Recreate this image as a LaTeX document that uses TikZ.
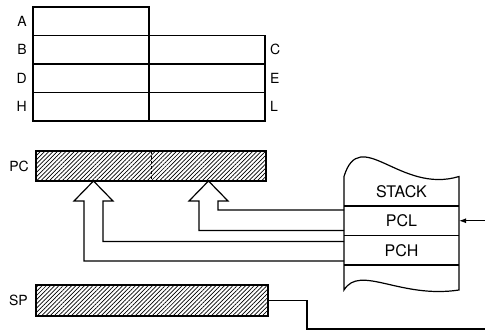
\documentclass[tikz,border=0pt]{standalone}
\usepackage{fontspec}
\setmainfont{TeX Gyre Heros}
\usetikzlibrary{arrows.meta, positioning, calc, patterns.meta}

\begin{document}
\begin{tikzpicture}[
    x=1pt, y=-1pt,
    cell/.style={draw, line width=1.2pt, minimum width=116pt, minimum height=28.5pt,
                 inner sep=0pt, outer sep=0pt},
    reg/.style={draw, line width=1.2pt, inner sep=0pt, outer sep=0pt, minimum height=30pt,
                pattern={Lines[angle=45, distance=3pt, line width=0.7pt]}},
    row/.style={minimum width=115pt, minimum height=29.5pt, inner sep=0pt, outer sep=0pt,
                font=\fontsize{16}{18}\selectfont},
    regname/.style={font=\fontsize{14}{16}\selectfont, inner sep=0pt},
    pipe/.style={line width=1.2pt, line join=miter},
    arrow/.style={-{Latex[length=7pt, width=5pt]}, line width=1.2pt}
  ]
  \useasboundingbox (0,0) rectangle (485,332);

  % register pairs
  \node[cell, anchor=north west] (regA) at (33,7) {};
  \node[cell, below=0pt of regA] (regB) {};
  \node[cell, below=0pt of regB] (regD) {};
  \node[cell, below=0pt of regD] (regH) {};
  \node[cell, right=0pt of regB] (regC) {};
  \node[cell, below=0pt of regC] (regE) {};
  \node[cell, below=0pt of regE] (regL) {};

  \node[regname, left=6pt of regA] (lA) {A};
  \node[regname, left=6pt of regB] (lB) {B};
  \node[regname, left=6pt of regD] (lD) {D};
  \node[regname, left=6pt of regH] (lH) {H};
  \node[regname, right=5pt of regC] (lC) {C};
  \node[regname, right=5pt of regE] (lE) {E};
  \node[regname, right=5pt of regL] (lL) {L};

  % program counter and stack pointer
  \node[reg, minimum width=230pt, anchor=north west] (pc) at (36,151) {};
  \draw[densely dashed, line width=1pt] (pc.north) -- (pc.south);
  \node[regname, left=7pt of pc] (lPC) {PC};

  \node[reg, minimum width=232pt, minimum height=31pt, anchor=north west] (sp) at (36,285) {};
  \node[regname, left=8pt of sp] (lSP) {SP};

  % stack
  \node[row, anchor=north west] (pcl) at (344,206) {PCL};
  \node[row, above=0pt of pcl] (stk) {STACK};
  \node[row, below=0pt of pcl] (pch) {PCH};
  \coordinate (bl) at ($(pch.south west)+(0,25)$);
  \coordinate (br) at ($(pch.south east)+(0,25)$);
  \draw[pipe] (stk.north west) .. controls +(16,-52) and +(-59,18) .. (stk.north east)
    -- (br) .. controls +(-59,9) and +(16,-26) .. (bl) -- cycle;
  \draw[pipe] (stk.south west) -- (stk.south east)
    (pcl.south west) -- (pcl.south east)
    (pch.south west) -- (pch.south east);

  % hollow arrows back into PC
  \coordinate (tipH) at ($(pc.south west)!0.25!(pc.south east)$);
  \coordinate (tipL) at ($(pc.south west)!0.75!(pc.south east)$);
  \draw[pipe] ($(pcl.south west)+(0,-5)$) -| ($(tipL)+(-9.5,20)$) -- ++(-10,0) -- (tipL)
    -- ++(19.5,20) -- ++(-10,0) |- ($(pcl.north west)+(0,4)$);
  \draw[pipe] ($(pch.south west)+(0,-4)$) -| ($(tipH)+(-9.5,20)$) -- ++(-10,0) -- (tipH)
    -- ++(19.5,20) -- ++(-10,0) |- ($(pch.north west)+(0,6)$);

  \coordinate (feed) at ($(pcl.east)+(26,0)$);
  \draw[arrow] (feed) -- (pcl.east);

  \coordinate (spout) at (485,329);
  \draw[pipe] (sp.east) -- ++(39,0) |- (spout);
\end{tikzpicture}
\end{document}
